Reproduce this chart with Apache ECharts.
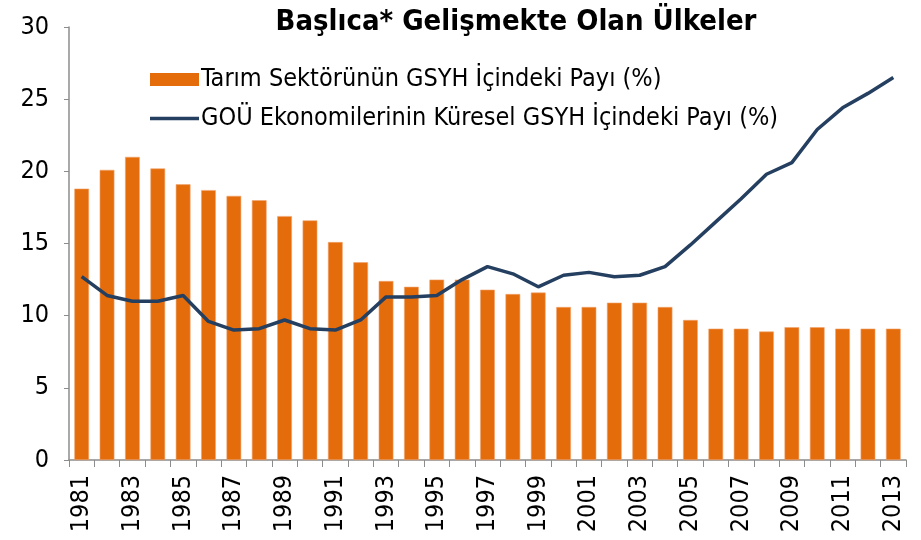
<!DOCTYPE html>
<html>
<head>
<meta charset="utf-8">
<script src="https://cdn.jsdelivr.net/npm/echarts@6/dist/echarts.min.js"></script>
<style>
html, body { margin: 0; padding: 0; background: #fff; }
#chart { width: 921px; height: 540px; }
</style>
</head>
<body>
<div id="chart"></div>
<script>
var years = [];
for (var y = 1981; y <= 2013; y++) years.push(String(y));

// Tarım sektörünün GSYH içindeki payı (%)
var tarimPayi = [18.8, 20.1, 21.0, 20.2, 19.1, 18.7, 18.3, 18.0, 16.9, 16.6, 15.1,
  13.7, 12.4, 12.0, 12.5, 12.5, 11.8, 11.5, 11.6, 10.6, 10.6, 10.9, 10.9,
  10.6, 9.7, 9.1, 9.1, 8.9, 9.2, 9.2, 9.1, 9.1, 9.1];

// GOÜ ekonomilerinin küresel GSYH içindeki payı (%)
var gouPayi = [12.7, 11.4, 11.0, 11.0, 11.4, 9.6, 9.0, 9.1, 9.7, 9.1, 9.0,
  9.7, 11.3, 11.3, 11.4, 12.5, 13.4, 12.9, 12.0, 12.8, 13.0, 12.7, 12.8,
  13.4, 14.9, 16.5, 18.1, 19.8, 20.6, 22.9, 24.4, 25.4, 26.5];

var yTicks = [0, 5, 10, 15, 20, 25, 30];

var FONT = '"DejaVu Sans Condensed", "DejaVu Sans", sans-serif';

var myChart = echarts.init(document.getElementById('chart'));
var option = {
  animation: false,
  backgroundColor: '#ffffff',
  title: {
    text: 'Başlıca* Gelişmekte Olan Ülkeler',
    left: 511,
    textAlign: 'center',
    top: 3,
    textStyle: { fontFamily: FONT, fontWeight: 'bold', fontSize: 29, color: '#000' }
  },
  legend: {
    orient: 'vertical',
    left: 145,
    top: 62,
    itemGap: 14,
    itemWidth: 49,
    itemHeight: 13,
    textStyle: { fontFamily: FONT, fontSize: 25, color: '#000', padding: [0, 0, 0, -3] },
    itemStyle: { borderWidth: 0 },
    data: [
      { name: 'Tarım Sektörünün GSYH İçindeki Payı (%)', icon: 'rect' },
      {
        name: 'GOÜ Ekonomilerinin Küresel GSYH İçindeki Payı (%)',
        icon: 'path://M0,0 L48,0 L48,3.5 L0,3.5 Z',
        itemStyle: { color: '#243F60' }
      }
    ]
  },
  grid: { left: 69, right: 15, top: 27, bottom: 80 },
  xAxis: {
    type: 'category',
    data: years,
    boundaryGap: true,
    axisLine: { lineStyle: { color: '#8c8c8c', width: 1.5 } },
    axisTick: { show: true, alignWithLabel: false, interval: 0, length: 7, lineStyle: { color: '#8c8c8c' } },
    axisLabel: {
      interval: 1,
      rotate: 90,
      margin: 15,
      fontFamily: FONT,
      fontSize: 25,
      color: '#000'
    }
  },
  yAxis: {
    type: 'value',
    min: 0,
    max: 30,
    interval: 5,
    splitLine: { show: false },
    axisLine: { show: true, lineStyle: { color: '#8c8c8c', width: 1.5 } },
    axisTick: { show: true, length: 5, lineStyle: { color: '#8c8c8c' } },
    axisLabel: {
      margin: 20,
      fontFamily: FONT,
      fontSize: 25,
      color: '#000',
      formatter: function (v) { return yTicks.indexOf(v) >= 0 ? String(v) : ''; }
    }
  },
  series: [
    {
      name: 'Tarım Sektörünün GSYH İçindeki Payı (%)',
      type: 'bar',
      data: tarimPayi,
      barWidth: '58%',
      itemStyle: { color: '#E46C0A', borderColor: '#F2A470', borderWidth: 0.6 }
    },
    {
      name: 'GOÜ Ekonomilerinin Küresel GSYH İçindeki Payı (%)',
      type: 'line',
      data: gouPayi,
      symbol: 'none',
      lineStyle: { color: '#243F60', width: 3.5 },
      itemStyle: { color: '#243F60' }
    }
  ]
};
myChart.setOption(option);
</script>
</body>
</html>
